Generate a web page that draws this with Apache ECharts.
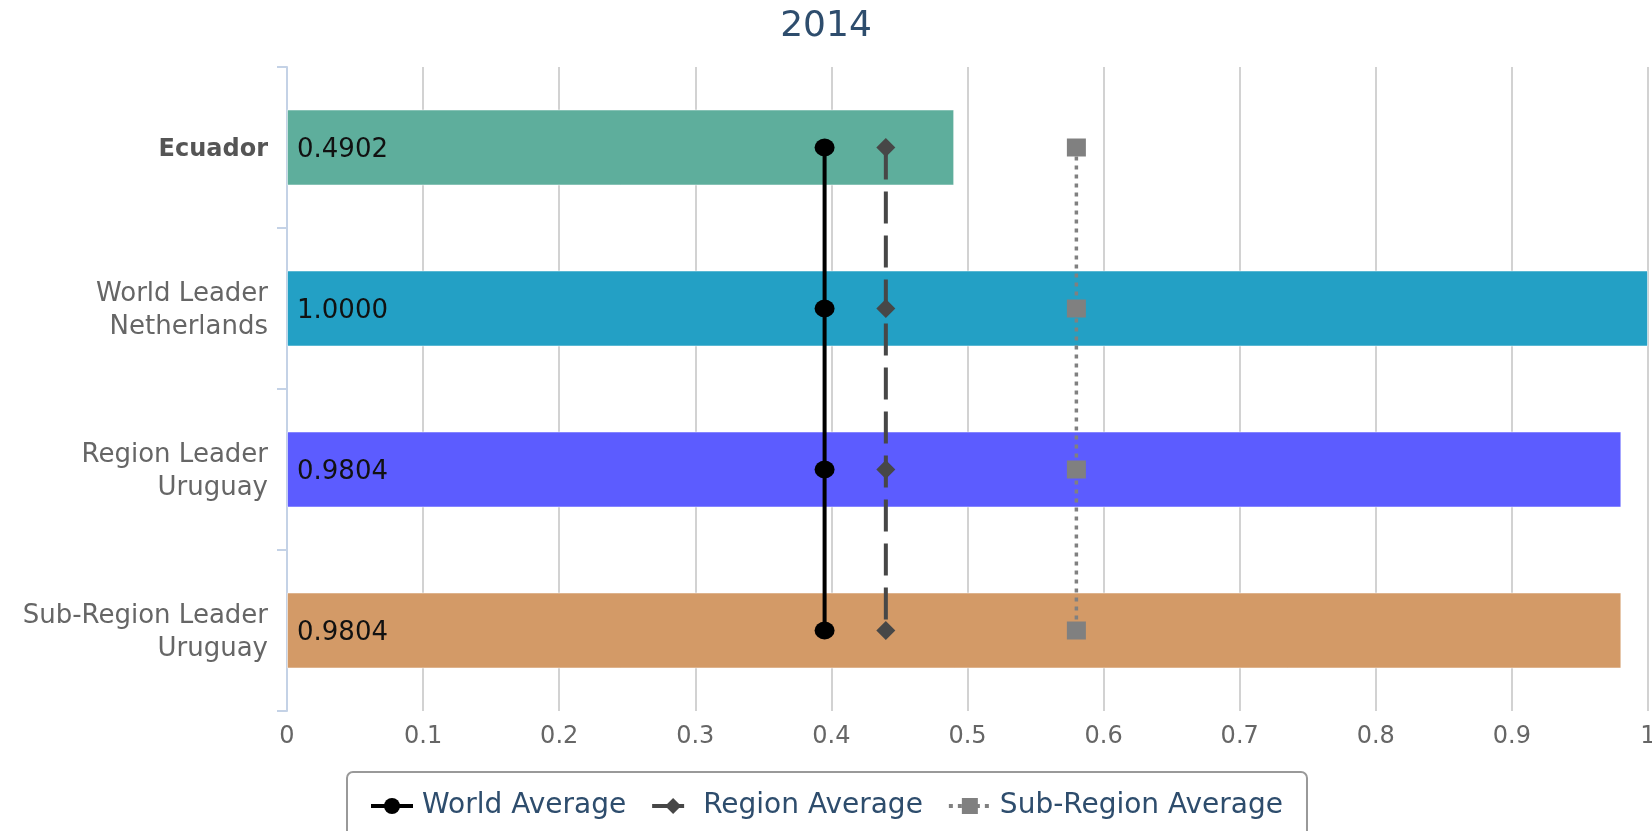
<!DOCTYPE html>
<html>
<head>
<meta charset="utf-8">
<style>
html,body{margin:0;padding:0;background:#fff;}
#chart{width:1652px;height:831px;}
</style>
<script src="https://cdn.jsdelivr.net/npm/echarts@6/dist/echarts.min.js"></script>
</head>
<body>
<div id="chart"></div>
<script>
const titleText = '2014';
const categories = ['Ecuador', 'World Leader\nNetherlands', 'Region Leader\nUruguay', 'Sub-Region Leader\nUruguay'];
const barValues = [0.4902, 1.0000, 0.9804, 0.9804];
const barColors = ['#5eae9c', '#23a0c5', '#5c5cff', '#d39a67'];
const worldAverage = [0.395, 0.395, 0.395, 0.395];
const regionAverage = [0.44, 0.44, 0.44, 0.44];
const subRegionAverage = [0.58, 0.58, 0.58, 0.58];
const xTicks = [0, 0.1, 0.2, 0.3, 0.4, 0.5, 0.6, 0.7, 0.8, 0.9, 1];

const FONT = 'DejaVu Sans';
const chart = echarts.init(document.getElementById('chart'), null, {renderer: 'canvas'});

function pairs(vals) { return vals.map((v, i) => [v, i]); }

chart.setOption({
  animation: false,
  backgroundColor: '#fff',
  title: {
    text: titleText,
    left: 'center',
    top: 4,
    textStyle: {fontFamily: FONT, fontSize: 36, fontWeight: 'normal', color: '#2e4d6d'}
  },
  grid: {left: 287, right: 4, top: 67, bottom: 120, containLabel: false, outerBoundsMode: 'none'},
  xAxis: {
    type: 'value',
    min: xTicks[0],
    max: xTicks[xTicks.length - 1],
    interval: 0.1,
    axisLine: {show: false},
    axisTick: {show: false},
    splitLine: {show: true, lineStyle: {color: '#d2d2d2', width: 2}},
    axisLabel: {
      fontFamily: FONT, fontSize: 24, color: '#666', margin: 14,
      formatter: v => String(Math.round(v * 10) / 10)
    }
  },
  yAxis: {
    type: 'category',
    inverse: true,
    data: categories,
    axisLine: {show: true, lineStyle: {color: '#c4d2e6', width: 2}},
    axisTick: {show: true, length: 10, lineStyle: {color: '#c4d2e6', width: 2}},
    splitLine: {show: false},
    axisLabel: {
      fontFamily: FONT, fontSize: 26, color: '#666', margin: 19, lineHeight: 33, align: 'right',
      padding: [5, 0, 0, 0],
      formatter: (v, i) => i === 0 ? '{b|' + v + '}' : v,
      rich: {b: {fontFamily: FONT, fontSize: 24, fontWeight: 'bold', color: '#555'}}
    }
  },
  legend: {
    left: 'center',
    top: 772,
    padding: [20, 24, 24, 22],
    borderColor: '#999',
    borderWidth: 2,
    borderRadius: 6,
    itemWidth: 42,
    itemHeight: 20,
    itemGap: 24,
    textStyle: {fontFamily: FONT, fontSize: 28, color: '#2e4d6d', padding: [0, 0, 0, 4]},
    data: [
      {name: 'World Average', lineStyle: {width: 4}},
      {name: 'Region Average', lineStyle: {width: 4}},
      {name: 'Sub-Region Average', lineStyle: {width: 4}}
    ]
  },
  series: [
    {
      type: 'bar',
      name: 'Score',
      barWidth: 76,
      z: 2,
      data: barValues.map((v, i) => ({
        value: v,
        itemStyle: {color: barColors[i], borderColor: 'rgba(255,255,255,0.5)', borderWidth: 1}
      })),
      label: {
        show: true,
        position: 'insideLeft',
        distance: 10,
        offset: [0, 3],
        fontFamily: FONT, fontSize: 26, color: '#111',
        formatter: p => p.value.toFixed(4)
      }
    },
    {
      type: 'line',
      name: 'World Average',
      data: pairs(worldAverage),
      symbol: 'circle',
      symbolSize: [20, 18],
      z: 5,
      itemStyle: {color: '#000'},
      lineStyle: {color: '#000', width: 4}
    },
    {
      type: 'line',
      name: 'Region Average',
      data: pairs(regionAverage),
      symbol: 'diamond',
      symbolSize: [19, 19],
      z: 5,
      itemStyle: {color: '#474747'},
      lineStyle: {color: '#474747', width: 4, type: [32, 12]}
    },
    {
      type: 'line',
      name: 'Sub-Region Average',
      data: pairs(subRegionAverage),
      symbol: 'rect',
      symbolSize: [19, 18],
      z: 5,
      itemStyle: {color: '#808080'},
      lineStyle: {color: '#808080', width: 3.5, type: [4, 5]}
    }
  ]
});
</script>
</body>
</html>
